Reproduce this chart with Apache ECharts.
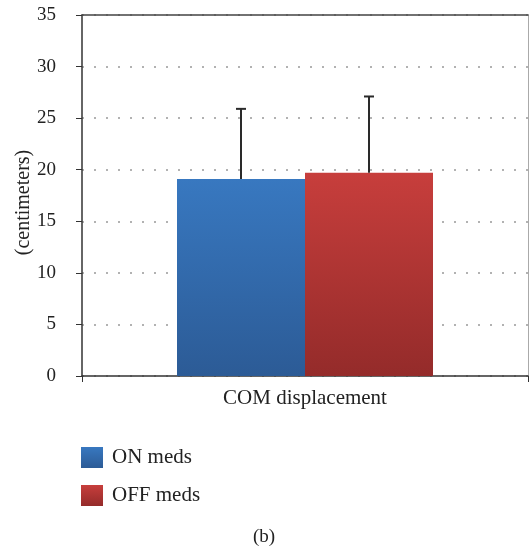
<!DOCTYPE html>
<html>
<head>
<meta charset="utf-8">
<script src="https://cdn.jsdelivr.net/npm/echarts@6/dist/echarts.min.js"></script>
<style>
  html, body { margin: 0; padding: 0; background: #fff; }
  #chart { width: 529px; height: 546px; }
</style>
</head>
<body>
<div id="chart"></div>
<script>
// data
const categories = ["COM displacement"];
const seriesNames = ["ON meds", "OFF meds"];
const means = [19.1, 19.7];
const errTops = [25.9, 27.1];
const yTicks = { min: 0, max: 35, step: 5 };

const serif = "'Liberation Serif', 'DejaVu Serif', serif";
const barW = 128;

const fills = [
  ["#3878c0", "#2c5b96"],
  ["#c73e3c", "#942b2a"]
];

function grad(c) {
  return new echarts.graphic.LinearGradient(0, 0, 0, 1, [
    { offset: 0, color: c[0] },
    { offset: 1, color: c[1] }
  ]);
}

const chart = echarts.init(document.getElementById("chart"));

let barSeries = seriesNames.map(function (name, i) {
  return {
    name: name,
    type: "bar",
    barWidth: barW,
    barGap: "0%",
    data: [means[i]],
    itemStyle: { color: grad(fills[i]) },
    z: 2
  };
});

// error bars (upper only), drawn on top of the bars
let errData = seriesNames.map(function (name, i) {
  return [0, means[i], errTops[i], i];
});

let errSeries = {
  type: "custom",
  data: errData,
  z: 5,
  silent: true,
  renderItem: function (params, api) {
    let cat = api.value(0);
    let idx = api.value(3);
    let base = api.coord([cat, api.value(1)]);
    let top = api.coord([cat, api.value(2)]);
    let x = base[0] + (idx - (seriesNames.length - 1) / 2) * barW;
    let style = { stroke: "#2a2a2a", lineWidth: 2 };
    return {
      type: "group",
      children: [
        { type: "line", shape: { x1: x, y1: base[1], x2: x, y2: top[1] }, style: style },
        { type: "line", shape: { x1: x - 5, y1: top[1], x2: x + 5, y2: top[1] }, style: style }
      ]
    };
  }
};

let option = {
  animation: false,
  backgroundColor: "#fff",
  grid: { left: 82, right: 1, top: 15, bottom: 170, outerBoundsMode: "none", containLabel: false },
  legend: {
    orient: "vertical",
    left: 81,
    top: 447,
    padding: 0,
    itemWidth: 22,
    itemHeight: 21,
    itemGap: 17,
    icon: "rect",
    data: seriesNames,
    textStyle: { fontFamily: serif, fontSize: 21, color: "#222", padding: [0, 0, 0, 4] }
  },
  graphic: [{
    type: "text",
    left: 253,
    top: 528,
    style: { text: "(b)", fontFamily: serif, fontSize: 19, fill: "#222" }
  }],
  xAxis: [{
    type: "category",
    data: categories,
    axisLine: { lineStyle: { color: "#333", width: 1.5 } },
    axisTick: { show: true, length: 6, lineStyle: { color: "#333" } },
    axisLabel: { margin: 12, fontFamily: serif, fontSize: 21, color: "#222" }
  }, {
    type: "category",
    position: "top",
    data: categories,
    axisLine: { onZero: false, lineStyle: { color: "#444", width: 1.5 } },
    axisTick: { show: false },
    axisLabel: { show: false }
  }],
  yAxis: [{
    type: "value",
    min: yTicks.min,
    max: yTicks.max,
    interval: yTicks.step,
    name: "(centimeters)",
    nameLocation: "middle",
    nameRotate: 90,
    nameGap: 48,
    nameMoveOverlap: false,
    nameTextStyle: { fontFamily: serif, fontSize: 20, color: "#222", padding: [0, 14, 0, 0] },
    axisLine: { show: true, lineStyle: { color: "#333", width: 1.5 } },
    axisTick: { show: true, length: 6, lineStyle: { color: "#333" } },
    axisLabel: { margin: 26, fontFamily: serif, fontSize: 19, color: "#222" },
    splitLine: { show: true, lineStyle: { color: "#999", width: 1.5, type: [2, 10] } }
  }, {
    type: "value",
    position: "right",
    min: yTicks.min,
    max: yTicks.max,
    axisLine: { show: true, onZero: false, lineStyle: { color: "#aaa", width: 1 } },
    axisTick: { show: false },
    axisLabel: { show: false },
    splitLine: { show: false }
  }],
  series: barSeries.concat([errSeries])
};

chart.setOption(option);
</script>
</body>
</html>
